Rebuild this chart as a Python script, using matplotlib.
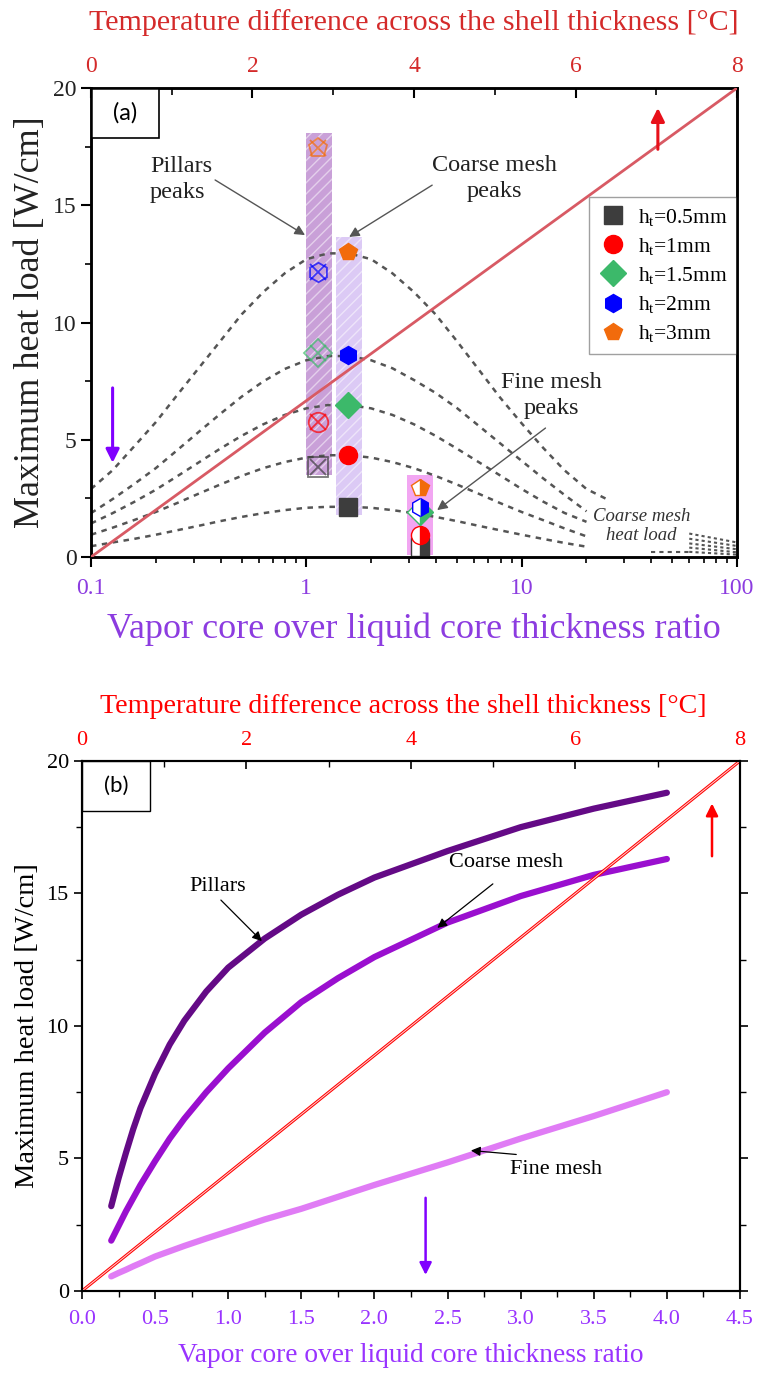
import matplotlib
matplotlib.use('Agg')
import matplotlib.pyplot as plt
from matplotlib.ticker import MultipleLocator, LogLocator, NullFormatter
from matplotlib.lines import Line2D
from matplotlib.patches import Rectangle

plt.rcParams['font.family'] = ['Liberation Serif', 'DejaVu Serif']
plt.rcParams['mathtext.fontset'] = 'custom'
plt.rcParams['mathtext.rm'] = 'Liberation Serif'
plt.rcParams['mathtext.it'] = 'Liberation Serif:italic'
plt.rcParams['hatch.linewidth'] = 1.0

# ---------------- Panel (a) data ----------------
ratio_grid = [0.1, 0.126, 0.158, 0.2, 0.251, 0.316, 0.398, 0.501, 0.631, 0.794,
              1.0, 1.26, 1.58, 2.0, 2.51, 3.16, 3.98, 5.01, 6.31, 7.94,
              10.0, 12.6, 15.8, 20.0, 25.7]
load_05 = [0.46, 0.62, 0.77, 0.95, 1.14, 1.33, 1.53, 1.71, 1.87, 2.0, 2.1, 2.14,
           2.14, 2.1, 2.0, 1.87, 1.71, 1.53, 1.33, 1.14, 0.95, 0.77, 0.6, 0.44]
load_1 = [0.95, 1.25, 1.57, 1.92, 2.3, 2.7, 3.09, 3.46, 3.79, 4.05, 4.24, 4.34,
          4.34, 4.24, 4.05, 3.79, 3.46, 3.09, 2.7, 2.3, 1.92, 1.57, 1.22, 0.88]
load_15 = [1.43, 1.87, 2.34, 2.87, 3.44, 4.03, 4.62, 5.17, 5.66, 6.06, 6.34, 6.48,
           6.48, 6.34, 6.06, 5.66, 5.17, 4.62, 4.05, 3.48, 2.9, 2.36, 1.88, 1.5]
load_2 = [1.87, 2.47, 3.1, 3.79, 4.55, 5.33, 6.1, 6.84, 7.49, 8.02, 8.39, 8.57,
          8.57, 8.39, 8.05, 7.55, 7.0, 6.35, 5.6, 4.85, 4.1, 3.35, 2.65, 1.95]
load_3 = [2.9, 3.7, 4.7, 5.75, 6.9, 8.05, 9.2, 10.35, 11.3, 12.1, 12.7, 12.95,
          12.95, 12.7, 12.1, 11.3, 10.35, 9.2, 8.0, 6.8, 5.7, 4.65, 3.7, 2.9, 2.4]

tail_ratio = [60, 100]
tail_05 = [0.22, 0.1]
tail_1 = [0.4, 0.2]
tail_15 = [0.58, 0.33]
tail_2 = [0.78, 0.47]
tail_3 = [1.0, 0.62]
flat_ratio = [40, 60]
flat_load = [0.2, 0.2]

labels_ht = ['h$_\\mathrm{t}$=0.5mm', 'h$_\\mathrm{t}$=1mm', 'h$_\\mathrm{t}$=1.5mm',
             'h$_\\mathrm{t}$=2mm', 'h$_\\mathrm{t}$=3mm']
colors_ht = ['#3d3d3d', '#ff0000', '#3cb96a', '#0000ff', '#f26b0c']
markers_ht = ['s', 'o', 'D', 'h', 'p']

pillar_ratio = 1.13
pillar_peaks = [3.85, 5.77, 8.7, 12.17, 17.44]
coarse_ratio = 1.56
coarse_peaks = [2.15, 4.35, 6.48, 8.61, 13.02]
fine_ratio = 3.37
fine_peaks = [0.44, 0.94, 1.93, 2.15, 2.94]

pillar_band = {'x': [1.0, 1.31], 'y': [3.5, 18.08]}
coarse_band = {'x': [1.37, 1.81], 'y': [1.8, 13.65]}
fine_band = {'x': [2.94, 3.88], 'y': [0.1, 3.5]}

temp_line = [0, 8]
temp_load = [0, 20]

# ---------------- Panel (b) data ----------------
ratio_b = [0.2, 0.25, 0.3, 0.35, 0.4, 0.5, 0.6, 0.7, 0.85, 1.0, 1.25, 1.5, 1.75,
           2.0, 2.5, 3.0, 3.5, 4.0]
pillars_b = [3.2, 4.25, 5.2, 6.1, 6.9, 8.2, 9.3, 10.2, 11.3, 12.2, 13.3, 14.2, 14.95,
             15.6, 16.6, 17.5, 18.2, 18.8]
coarse_b = [1.9, 2.45, 3.0, 3.5, 4.0, 4.9, 5.75, 6.5, 7.5, 8.4, 9.75, 10.9, 11.8,
            12.6, 13.9, 14.9, 15.7, 16.3]
fine_b = [0.55, 0.68, 0.8, 0.93, 1.05, 1.3, 1.5, 1.7, 1.98, 2.25, 2.7, 3.1, 3.55,
          4.0, 4.85, 5.75, 6.6, 7.5]

RED_A = '#d42a2a'
PURP_A = '#8c3ce0'
RED_B = '#ff0000'
PURP_B = '#9933ff'

fig = plt.figure(figsize=(7.57, 13.76), dpi=100)

# ======================= Panel (a) =======================
ax = fig.add_axes([0.1202, 0.5952, 0.8534, 0.3408])
ax.set_xscale('log')
ax.set_xlim(0.1, 100)
ax.set_ylim(0, 20)

ax.fill_between(pillar_band['x'], pillar_band['y'][0], pillar_band['y'][1],
                facecolor='#c9a0d8', edgecolor=(1, 1, 1, 0.5), hatch='///', linewidth=0, zorder=1)
ax.fill_between(coarse_band['x'], coarse_band['y'][0], coarse_band['y'][1],
                facecolor='#dccaf5', edgecolor=(1, 1, 1, 0.5), hatch='///', linewidth=0, zorder=1)
ax.fill_between(fine_band['x'], fine_band['y'][0], fine_band['y'][1],
                facecolor='#f2a6f2', linewidth=0, zorder=1)

dash = (0, (2.2, 2.2))
for curve in [load_05, load_1, load_15, load_2, load_3]:
    ax.plot(ratio_grid[:len(curve)], curve, color='#555555', lw=1.8, ls=dash, zorder=2)
for tail in [tail_05, tail_1, tail_15, tail_2, tail_3]:
    ax.plot(tail_ratio, tail, color='#555555', lw=1.5, ls=(0, (1.5, 1.5)), zorder=2)
ax.plot(flat_ratio, flat_load, color='#555555', lw=1.5, ls=(0, (2, 2)), zorder=2)

for yv, c, m in zip(pillar_peaks, colors_ht, markers_ht):
    ax.plot([pillar_ratio], [yv], marker=m, ms=14, mfc='none', mec=c, mew=1.3, alpha=0.7, zorder=4)
    ax.plot([pillar_ratio], [yv], marker='x', ms=11, mec=c, mew=1.3, alpha=0.7, zorder=4)
for yv, c, m in zip(coarse_peaks, colors_ht, markers_ht):
    ax.plot([coarse_ratio], [yv], marker=m, ms=13, mfc=c, mec=c, zorder=5)
for yv, c, m in zip(fine_peaks, colors_ht, markers_ht):
    ax.plot([fine_ratio], [yv], marker=m, ms=13, mfc=c, mec=c, fillstyle='right',
            markerfacecoloralt='white', mew=1.0, zorder=5)

handles = [Line2D([], [], marker=m, color=c, ls='none', ms=13) for c, m in zip(colors_ht, markers_ht)]
leg = ax.legend(handles, labels_ht, loc='upper right', bbox_to_anchor=(1.0, 0.768),
                borderaxespad=0.0, fontsize=15.5, frameon=True, fancybox=False,
                edgecolor='#888888', handletextpad=0.5, borderpad=0.45, labelspacing=0.38,
                handlelength=1.3)
leg.get_frame().set_linewidth(1.0)

ax.set_xticks([0.1, 1, 10, 100])
ax.set_xticklabels(['0.1', '1', '10', '100'])
ax.xaxis.set_minor_locator(LogLocator(base=10, subs=range(2, 10)))
ax.xaxis.set_minor_formatter(NullFormatter())
ax.yaxis.set_major_locator(MultipleLocator(5))
ax.yaxis.set_minor_locator(MultipleLocator(2.5))
ax.tick_params(axis='both', which='major', direction='out', length=7, width=1.5, labelsize=17)
ax.tick_params(axis='both', which='minor', direction='out', length=4, width=1.2)
ax.tick_params(axis='x', which='both', labelcolor=PURP_A, pad=8)
ax.tick_params(axis='y', labelcolor='#222222')
for s in ax.spines.values():
    s.set_linewidth(1.8)
ax.set_xlabel('Vapor core over liquid core thickness ratio', fontsize=26, color=PURP_A, labelpad=10)
ax.set_ylabel('Maximum heat load [W/cm]', fontsize=26, color='#222222', labelpad=4)

arrow_a = dict(arrowstyle='-|>', color='#555555', lw=1.0, mutation_scale=15, shrinkA=0, shrinkB=0)
ax.text(0.188, 16.1, 'Pillars\npeaks', fontsize=17.5, ha='left', va='center',
        color='#222222', linespacing=1.3)
ax.annotate('', xy=(0.986, 13.73), xytext=(0.377, 16.08), arrowprops=arrow_a)
ax.text(7.5, 16.15, 'Coarse mesh\npeaks', fontsize=17.5, ha='center', va='center',
        color='#222222', linespacing=1.3)
ax.annotate('', xy=(1.58, 13.65), xytext=(3.84, 15.86), arrowprops=arrow_a)
ax.text(13.7, 6.9, 'Fine mesh\npeaks', fontsize=17.5, ha='center', va='center',
        color='#222222', linespacing=1.3)
ax.annotate('', xy=(4.05, 2.0), xytext=(12.9, 5.5), arrowprops=arrow_a)
ax.text(36, 1.32, 'Coarse mesh\nheat load', fontsize=13.5, style='italic', ha='center',
        va='center', color='#333333', linespacing=1.15)

ax.annotate('', xy=(0.126, 3.9), xytext=(0.126, 7.33),
            arrowprops=dict(arrowstyle='-|>', color='#8000ff', lw=2.2, mutation_scale=20))
ax.add_patch(Rectangle((0.0, 0.893), 0.105, 0.107, transform=ax.transAxes,
                       facecolor='white', edgecolor='black', lw=1.2, zorder=6))
ax.text(0.0525, 0.9465, '(a)', transform=ax.transAxes, ha='center', va='center',
        fontsize=17, family='Lato', zorder=7)

axt = ax.twiny()
axt.set_xlim(0, 8)
axt.plot(temp_line, temp_load, color='#d85a64', lw=2.0, zorder=3)
axt.annotate('', xy=(7.02, 19.27), xytext=(7.02, 17.27),
             arrowprops=dict(arrowstyle='-|>', color='#e8101a', lw=2.2, mutation_scale=20))
axt.xaxis.set_major_locator(MultipleLocator(2))
axt.xaxis.set_minor_locator(MultipleLocator(1))
axt.tick_params(axis='x', which='major', direction='in', length=7, width=1.5,
                labelsize=17, labelcolor=RED_A, pad=8)
axt.tick_params(axis='x', which='minor', direction='in', length=5, width=1.2)
axt.set_xlabel('Temperature difference across the shell thickness [°C]', fontsize=21.6,
               color=RED_A, labelpad=19)
for s in axt.spines.values():
    s.set_linewidth(1.8)

# ======================= Panel (b) =======================
bx = fig.add_axes([0.1083, 0.0618, 0.8692, 0.3852])
bx.set_xlim(0, 4.5)
bx.set_ylim(0, 20)
bx.plot(ratio_b, pillars_b, color='#640a86', lw=4.5, solid_capstyle='round',
        solid_joinstyle='round', zorder=3)
bx.plot(ratio_b, coarse_b, color='#9a0fcf', lw=4.5, solid_capstyle='round',
        solid_joinstyle='round', zorder=3)
bx.plot(ratio_b, fine_b, color='#e07cf5', lw=4.5, solid_capstyle='round',
        solid_joinstyle='round', zorder=3)

arrow_b = dict(arrowstyle='-|>', color='black', lw=0.9, mutation_scale=14, shrinkA=0, shrinkB=0)
bx.text(0.93, 15.25, 'Pillars', fontsize=16, ha='center', va='center')
bx.annotate('', xy=(1.23, 13.2), xytext=(0.95, 14.75), arrowprops=arrow_b)
bx.text(2.9, 16.15, 'Coarse mesh', fontsize=16, ha='center', va='center')
bx.annotate('', xy=(2.43, 13.7), xytext=(2.81, 15.36), arrowprops=arrow_b)
bx.text(3.24, 4.6, 'Fine mesh', fontsize=16, ha='center', va='center')
bx.annotate('', xy=(2.66, 5.3), xytext=(2.97, 5.15), arrowprops=arrow_b)
bx.annotate('', xy=(2.35, 0.5), xytext=(2.35, 3.62),
            arrowprops=dict(arrowstyle='-|>', color='#8000ff', lw=1.8, mutation_scale=18))
bx.add_patch(Rectangle((0.0, 0.906), 0.104, 0.094, transform=bx.transAxes,
                       facecolor='white', edgecolor='black', lw=1.0, zorder=6))
bx.text(0.052, 0.953, '(b)', transform=bx.transAxes, ha='center', va='center',
        fontsize=16, family='Lato', zorder=7)

bx.xaxis.set_major_locator(MultipleLocator(0.5))
bx.xaxis.set_minor_locator(MultipleLocator(0.25))
bx.yaxis.set_major_locator(MultipleLocator(5))
bx.yaxis.set_minor_locator(MultipleLocator(2.5))
bx.xaxis.set_major_formatter(plt.FuncFormatter(lambda v, p: f'{v:.1f}'))
bx.tick_params(axis='both', which='major', direction='out', length=6, width=1.2, labelsize=16)
bx.tick_params(axis='both', which='minor', direction='out', length=4, width=1.0)
bx.tick_params(axis='y', which='both', right=True, labelright=False)
bx.tick_params(axis='x', which='both', labelcolor=PURP_B, pad=8)
for s in bx.spines.values():
    s.set_linewidth(1.5)
bx.set_xlabel('Vapor core over liquid core thickness ratio', fontsize=19.7, color=PURP_B, labelpad=10)
bx.set_ylabel('Maximum heat load [W/cm]', fontsize=20.5, labelpad=5)

bxt = bx.twiny()
bxt.set_xlim(0, 8)
bxt.plot(temp_line, temp_load, color=RED_B, lw=2.2, zorder=2)
bxt.plot(temp_line, temp_load, color='#ffd5d5', lw=0.7, zorder=2)
bxt.annotate('', xy=(7.66, 18.5), xytext=(7.66, 16.3),
             arrowprops=dict(arrowstyle='-|>', color=RED_B, lw=1.8, mutation_scale=18))
bxt.xaxis.set_major_locator(MultipleLocator(2))
bxt.xaxis.set_minor_locator(MultipleLocator(1))
bxt.tick_params(axis='x', which='major', direction='in', length=6, width=1.2,
                labelsize=16, labelcolor=RED_B, pad=8)
bxt.tick_params(axis='x', which='minor', direction='in', length=4, width=1.0)
bxt.set_xlabel('Temperature difference across the shell thickness [°C]', fontsize=20.2,
               color=RED_B, labelpad=13)
bxt.xaxis.label.set_x(0.488)
for s in bxt.spines.values():
    s.set_linewidth(1.5)

fig.savefig('out.png', dpi=100)
